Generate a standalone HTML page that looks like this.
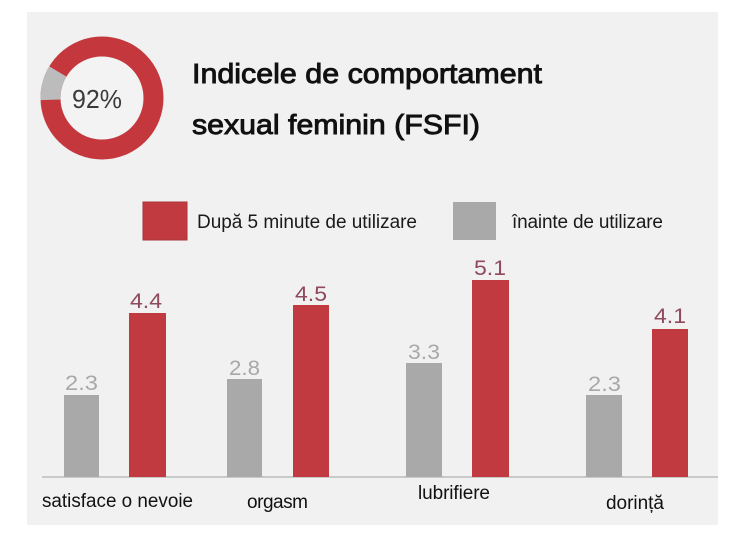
<!DOCTYPE html>
<html>
<head>
<meta charset="utf-8">
<style>
  html,body{margin:0;padding:0;background:#ffffff;}
  body{width:750px;height:537px;overflow:hidden;}
  svg{display:block;}
  text{font-family:"Liberation Sans","DejaVu Sans",sans-serif;}
</style>
</head>
<body>
<svg width="750" height="537" viewBox="0 0 750 537" xmlns="http://www.w3.org/2000/svg">
  <!-- panel -->
  <rect x="27" y="12" width="691" height="513" fill="#f1f1f1"/>

  <!-- donut -->
  <circle cx="102" cy="98" r="42" fill="#f3f3f3"/>
  <circle cx="102" cy="98" r="51.5" fill="none" stroke="#c4383d" stroke-width="20"/>
  <path d="M50.53 99.8 A51.5 51.5 0 0 1 57.86 71.5" fill="none" stroke="#bdbcbc" stroke-width="20"/>
  <text x="72" y="108" font-size="26" fill="#3a3a3a" textLength="50" lengthAdjust="spacingAndGlyphs">92%</text>

  <!-- title -->
  <text x="192" y="83" font-size="28" fill="#111" stroke="#111" stroke-width="0.9" textLength="350" lengthAdjust="spacingAndGlyphs">Indicele de comportament</text>
  <text x="192" y="134" font-size="28" fill="#111" stroke="#111" stroke-width="0.9" textLength="288" lengthAdjust="spacingAndGlyphs">sexual feminin (FSFI)</text>

  <!-- legend -->
  <rect x="143" y="202" width="44" height="38" fill="#c13a3f" stroke="#a8353a" stroke-width="1"/>
  <text x="197" y="228" font-size="19" fill="#1a1a1a" textLength="220" lengthAdjust="spacing">După 5 minute de utilizare</text>
  <rect x="453" y="202" width="43" height="38" fill="#a9a9a9"/>
  <text x="512" y="228" font-size="19" fill="#1a1a1a" textLength="151" lengthAdjust="spacing">înainte de utilizare</text>

  <!-- axis -->
  <rect x="42" y="476" width="676" height="2" fill="#c9c9c9"/>

  <!-- bars -->
  <rect x="64" y="395" width="35" height="82" fill="#a9a9a9"/>
  <rect x="129" y="313" width="37" height="164" fill="#c13a3f"/>
  <rect x="227" y="379" width="35" height="98" fill="#a9a9a9"/>
  <rect x="293" y="305" width="36" height="172" fill="#c13a3f"/>
  <rect x="406" y="363" width="36" height="114" fill="#a9a9a9"/>
  <rect x="472" y="280" width="37" height="197" fill="#c13a3f"/>
  <rect x="586" y="395" width="36" height="82" fill="#a9a9a9"/>
  <rect x="652" y="329" width="36" height="148" fill="#c13a3f"/>

  <!-- value labels -->
  <g font-size="21">
    <text x="65" y="390" fill="#a8a8a8" textLength="33" lengthAdjust="spacingAndGlyphs">2.3</text>
    <text x="130" y="308" fill="#8f4a5c" textLength="32" lengthAdjust="spacingAndGlyphs">4.4</text>
    <text x="229" y="375" fill="#a8a8a8" textLength="31" lengthAdjust="spacingAndGlyphs">2.8</text>
    <text x="295" y="301" fill="#8f4a5c" textLength="32" lengthAdjust="spacingAndGlyphs">4.5</text>
    <text x="408" y="359" fill="#a8a8a8" textLength="32" lengthAdjust="spacingAndGlyphs">3.3</text>
    <text x="474" y="275" fill="#8f4a5c" textLength="32" lengthAdjust="spacingAndGlyphs">5.1</text>
    <text x="588" y="391" fill="#a8a8a8" textLength="33" lengthAdjust="spacingAndGlyphs">2.3</text>
    <text x="654" y="323" fill="#8f4a5c" textLength="32" lengthAdjust="spacingAndGlyphs">4.1</text>
  </g>

  <!-- category labels -->
  <g font-size="19" fill="#111">
    <text x="42" y="507" textLength="151" lengthAdjust="spacingAndGlyphs">satisface o nevoie</text>
    <text x="247" y="508" textLength="61" lengthAdjust="spacing">orgasm</text>
    <text x="418" y="499" textLength="72" lengthAdjust="spacing">lubrifiere</text>
    <text x="606" y="509" textLength="58" lengthAdjust="spacing">dorință</text>
  </g>
</svg>
</body>
</html>
